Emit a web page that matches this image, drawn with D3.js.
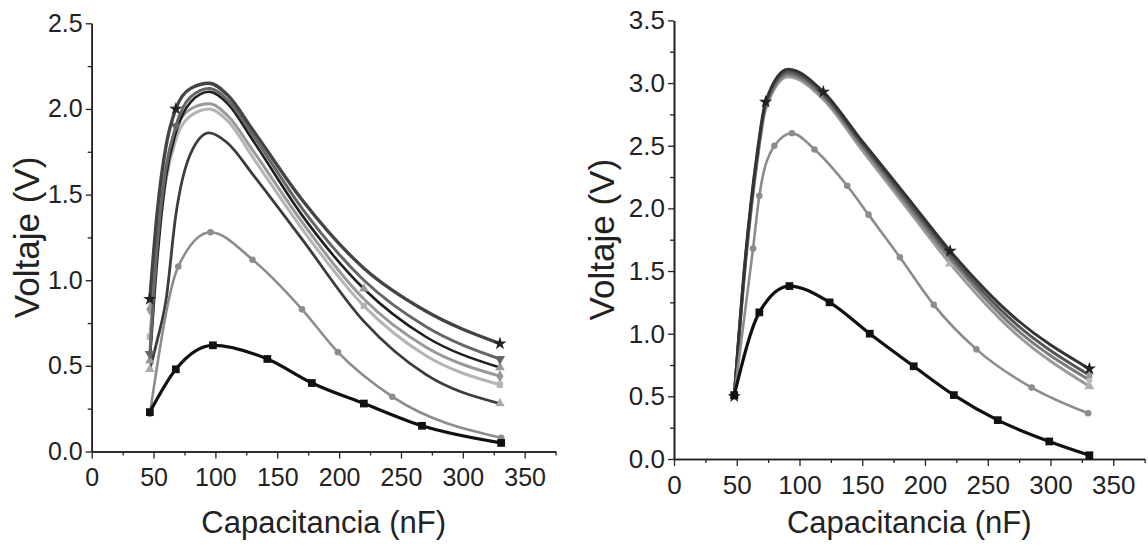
<!DOCTYPE html>
<html>
<head>
<meta charset="utf-8">
<script src="https://cdn.jsdelivr.net/npm/d3@7"></script>
<style>
  body { margin: 0; background: #fff; }
  svg { display: block; font-family: "Liberation Sans", Arial, sans-serif; }
</style>
</head>
<body>
<svg width="1148" height="547"></svg>
<script>
// ---- left panel data (C in nF, V in volts) ----
const capLeftSquares = [47, 68, 98, 142, 178, 220, 267, 331];
const voltLeftSquares = [0.23, 0.48, 0.62, 0.54, 0.40, 0.28, 0.15, 0.05];
const capLeftCircles = [47, 70, 96, 130, 170, 199, 243, 331];
const voltLeftCircles = [0.22, 1.08, 1.28, 1.12, 0.83, 0.58, 0.32, 0.08];
const capLeftFits = [47, 53, 60, 68, 80, 95, 110, 130, 170, 220, 270, 330];
const voltLeftA = [0.89, 1.40, 1.78, 2.00, 2.12, 2.15, 2.08, 1.88, 1.47, 1.07, 0.82, 0.63];
const voltLeftB = [0.57, 1.20, 1.65, 1.90, 2.07, 2.12, 2.05, 1.85, 1.42, 1.00, 0.73, 0.54];
const voltLeftC = [0.53, 1.12, 1.60, 1.86, 2.04, 2.10, 2.03, 1.82, 1.38, 0.95, 0.67, 0.49];
const voltLeftD = [0.83, 1.30, 1.66, 1.88, 2.00, 2.03, 1.96, 1.76, 1.34, 0.89, 0.61, 0.44];
const voltLeftE = [0.67, 1.18, 1.58, 1.82, 1.96, 2.00, 1.93, 1.72, 1.30, 0.85, 0.56, 0.39];
const voltLeftF = [0.48, 0.65, 0.88, 1.38, 1.74, 1.86, 1.80, 1.62, 1.24, 0.76, 0.45, 0.28];

// ---- right panel data ----
const capRightSquares = [48, 68, 92, 124, 156, 191, 223, 258, 299, 331];
const voltRightSquares = [0.51, 1.17, 1.38, 1.25, 1.00, 0.74, 0.51, 0.31, 0.14, 0.03];
const capRightCircles = [48, 63, 68, 80, 94, 112, 138, 155, 180, 207, 241, 285, 330];
const voltRightCircles = [0.50, 1.68, 2.10, 2.50, 2.60, 2.47, 2.18, 1.95, 1.61, 1.23, 0.875, 0.57, 0.365];
const capRightFits = [48, 57, 66, 73, 91, 119, 148, 185, 220, 270, 331];
const voltRightA = [0.50, 1.62, 2.42, 2.85, 3.11, 2.93, 2.56, 2.10, 1.66, 1.14, 0.72];
const voltRightB = [0.50, 1.60, 2.40, 2.83, 3.09, 2.91, 2.54, 2.07, 1.63, 1.10, 0.67];
const voltRightC = [0.50, 1.58, 2.37, 2.81, 3.07, 2.89, 2.52, 2.04, 1.60, 1.06, 0.63];
const voltRightD = [0.50, 1.56, 2.35, 2.79, 3.05, 2.87, 2.49, 2.01, 1.56, 1.02, 0.58];

// ---- axes ticks ----
const xMajor = [0, 50, 100, 150, 200, 250, 300, 350];
const xMinor = [25, 75, 125, 175, 225, 275, 325, 375];
const yLeftMajor = [0, 0.5, 1.0, 1.5, 2.0, 2.5];
const yLeftMinor = [0.25, 0.75, 1.25, 1.75, 2.25];
const yRightMajor = [0, 0.5, 1.0, 1.5, 2.0, 2.5, 3.0, 3.5];
const yRightMinor = [0.25, 0.75, 1.25, 1.75, 2.25, 2.75, 3.25];

const xTitle = "Capacitancia (nF)";
const yTitle = "Voltaje (V)";

const svg = d3.select("svg");
const ink = "#222";

const panels = [
  { left: 91.7, right: 555.6, bottom: 451.5, top: 23.3, ymax: 2.5,
    yMajor: yLeftMajor, yMinor: yLeftMinor, font: 25, yTitleX: 39,
    series: [
      { xs: capLeftFits, ys: voltLeftE, color: "#b4b4b4", width: 3, symbol: d3.symbolSquare, size: 40, marks: [47, 220, 330] },
      { xs: capLeftFits, ys: voltLeftD, color: "#999", width: 3, symbol: d3.symbolDiamond, size: 45, marks: [47, 330] },
      { xs: capLeftFits, ys: voltLeftF, color: "#3c3c3c", width: 2.8, symbol: d3.symbolTriangle, size: 40, mcolor: "#aaa", marks: [47, 330] },
      { xs: capLeftFits, ys: voltLeftC, color: "#1e1e1e", width: 2.6, symbol: d3.symbolTriangle, size: 40, mcolor: "#999", marks: [47, 220, 330] },
      { xs: capLeftFits, ys: voltLeftB, color: "#666", width: 3, symbol: d3.symbolTriangle, rot: 180, size: 45, marks: [47, 68, 330] },
      { xs: capLeftFits, ys: voltLeftA, color: "#444", width: 3.4, symbol: d3.symbolStar, size: 55, mcolor: "#222", marks: [47, 68, 330] },
      { xs: capLeftCircles, ys: voltLeftCircles, color: "#8c8c8c", width: 2.6, symbol: d3.symbolCircle, size: 34, marks: capLeftCircles },
      { xs: capLeftSquares, ys: voltLeftSquares, color: "#111", width: 3.2, symbol: d3.symbolSquare, size: 60, marks: capLeftSquares }
    ] },
  { left: 674, right: 1144.6, bottom: 459, top: 20.4, ymax: 3.5,
    yMajor: yRightMajor, yMinor: yRightMinor, font: 26, yTitleX: 614,
    series: [
      { xs: capRightFits, ys: voltRightD, color: "#9a9a9a", width: 3, symbol: d3.symbolTriangle, size: 45, mcolor: "#b0b0b0", marks: [48, 220, 331] },
      { xs: capRightFits, ys: voltRightC, color: "#7a7a7a", width: 3, symbol: d3.symbolDiamond, size: 40, mcolor: "#bbb", marks: [331] },
      { xs: capRightFits, ys: voltRightB, color: "#555", width: 3, symbol: d3.symbolSquare, size: 36, mcolor: "#999", marks: [331] },
      { xs: capRightFits, ys: voltRightA, color: "#333", width: 3, symbol: d3.symbolStar, size: 55, mcolor: "#222", marks: [48, 73, 119, 220, 331] },
      { xs: capRightCircles, ys: voltRightCircles, color: "#8c8c8c", width: 2.6, symbol: d3.symbolCircle, size: 34, marks: capRightCircles },
      { xs: capRightSquares, ys: voltRightSquares, color: "#111", width: 3.2, symbol: d3.symbolSquare, size: 60, marks: capRightSquares }
    ] }
];

function styleAxis(g, font) {
  g.attr("font-family", "'Liberation Sans', Arial, sans-serif").attr("font-size", font);
  g.select(".domain").attr("stroke", ink).attr("stroke-width", 1.6);
  g.selectAll(".tick line").attr("stroke", ink).attr("stroke-width", 1.3);
  g.selectAll(".tick text").attr("fill", ink);
}

panels.forEach(p => {
  const x = d3.scaleLinear().domain([0, 375]).range([p.left, p.right]);
  const y = d3.scaleLinear().domain([0, p.ymax]).range([p.bottom, p.top]);
  const g = svg.append("g");

  // minor ticks first, majors with labels on top
  g.append("g").attr("transform", `translate(0,${p.bottom})`)
    .call(d3.axisBottom(x).tickValues(xMinor).tickSize(4).tickSizeOuter(0).tickFormat(""))
    .call(a => styleAxis(a, p.font));
  g.append("g").attr("transform", `translate(0,${p.bottom})`)
    .call(d3.axisBottom(x).tickValues(xMajor).tickSize(7).tickSizeOuter(0).tickPadding(10).tickFormat(d3.format("d")))
    .call(a => styleAxis(a, p.font));
  g.append("g").attr("transform", `translate(${p.left},0)`)
    .call(d3.axisLeft(y).tickValues(p.yMinor).tickSize(4).tickSizeOuter(0).tickFormat(""))
    .call(a => styleAxis(a, p.font));
  g.append("g").attr("transform", `translate(${p.left},0)`)
    .call(d3.axisLeft(y).tickValues(p.yMajor).tickSize(6).tickSizeOuter(0).tickPadding(3).tickFormat(d3.format(".1f")))
    .call(a => styleAxis(a, p.font));

  const line = d3.line().x(d => x(d[0])).y(d => y(d[1])).curve(d3.curveMonotoneX);

  p.series.forEach(s => {
    const pts = s.xs.map((v, i) => [v, s.ys[i]]);
    g.append("path").datum(pts)
      .attr("fill", "none")
      .attr("stroke", s.color)
      .attr("stroke-width", s.width)
      .attr("stroke-linejoin", "round")
      .attr("d", line);
    g.selectAll(null)
      .data(pts.filter(d => s.marks.includes(d[0])))
      .join("path")
      .attr("transform", d => `translate(${x(d[0])},${y(d[1])}) rotate(${s.rot || 0})`)
      .attr("d", d3.symbol().type(s.symbol).size(s.size))
      .attr("fill", s.mcolor || s.color);
  });

  g.append("text")
    .attr("x", (p.left + p.right) / 2)
    .attr("y", 533)
    .attr("text-anchor", "middle")
    .attr("font-size", 31)
    .attr("fill", ink)
    .text(xTitle);

  g.append("text")
    .attr("transform", `translate(${p.yTitleX},${(p.top + p.bottom) / 2}) rotate(-90)`)
    .attr("text-anchor", "middle")
    .attr("font-size", 35)
    .attr("fill", ink)
    .text(yTitle);
});
</script>
</body>
</html>
